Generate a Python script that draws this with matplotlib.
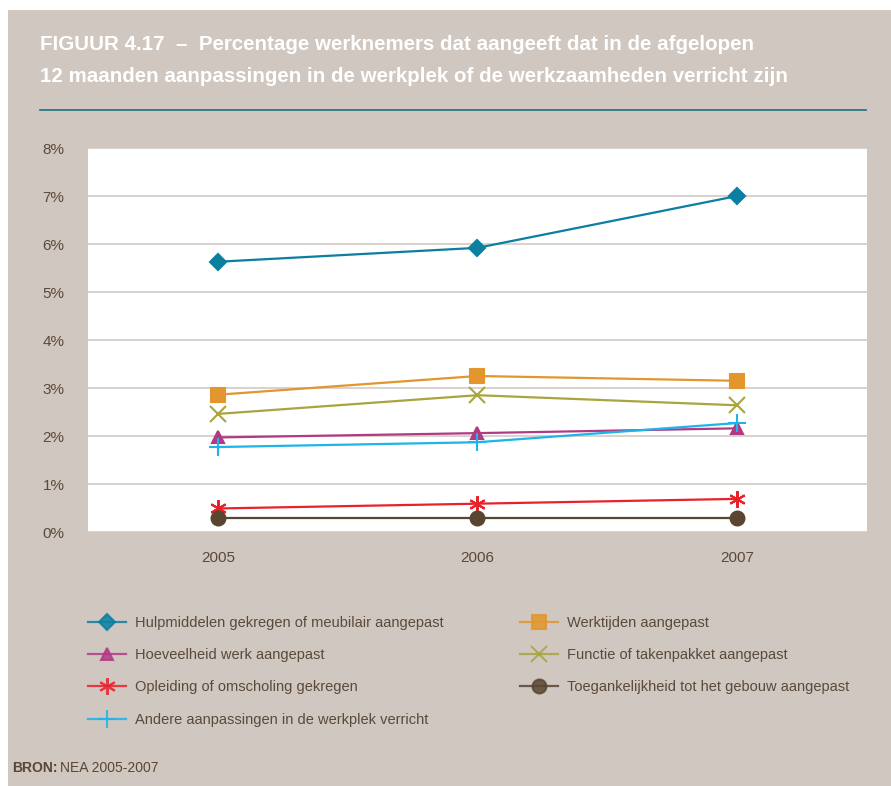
import matplotlib
matplotlib.use('Agg')
import matplotlib.pyplot as plt
from matplotlib.patches import Rectangle
from matplotlib.lines import Line2D

# ─── Data ────────────────────────────────────────────────────────────────
years = ['2005', '2006', '2007']
hulpmiddelen = [5.63, 5.92, 7.0]
werktijden = [2.86, 3.25, 3.15]
hoeveelheid = [1.97, 2.06, 2.16]
functie = [2.46, 2.85, 2.64]
opleiding = [0.49, 0.59, 0.69]
toegankelijkheid = [0.3, 0.3, 0.3]
andere = [1.77, 1.87, 2.27]

y_ticks = [0, 1, 2, 3, 4, 5, 6, 7, 8]

BG = '#d0c7c1'
GRID = '#d6cec8'
TEXT = '#5a4a3a'

W, H = 891, 786
fig = plt.figure(figsize=(W / 100, H / 100), dpi=100, facecolor='white')

# beige panel behind everything
fig.patches.append(Rectangle((8 / W, 0), 1 - 8 / W, 1 - 10 / H, transform=fig.transFigure,
                             facecolor=BG, edgecolor='none', zorder=-10))

# title + rule
fig.text(40 / W, 1 - 45 / H, 'FIGUUR 4.17  –  Percentage werknemers dat aangeeft dat in de afgelopen',
         color='white', fontsize=14.8, fontweight='bold', va='center', ha='left',
         family='Liberation Sans')
fig.text(40 / W, 1 - 77 / H, '12 maanden aanpassingen in de werkplek of de werkzaamheden verricht zijn',
         color='white', fontsize=14.8, fontweight='bold', va='center', ha='left',
         family='Liberation Sans')
fig.add_artist(Line2D([40 / W, 866 / W], [1 - 110 / H, 1 - 110 / H], transform=fig.transFigure,
                      color='#1f6e82', lw=1.2))

# ─── Plot area ───────────────────────────────────────────────────────────
ax = fig.add_axes([88 / W, 1 - 532 / H, (867 - 88) / W, (532 - 148) / H])
ax.set_facecolor('white')
for s in ax.spines.values():
    s.set_visible(False)

x = list(range(len(years)))
series = [
    (hulpmiddelen, 'Hulpmiddelen gekregen of meubilair aangepast', '#0a7fa0', 'D', 8.5, 1.6),
    (hoeveelheid, 'Hoeveelheid werk aangepast', '#b23a84', '^', 9, 1.6),
    (opleiding, 'Opleiding of omscholing gekregen', '#e8212b', (6, 2, 0), 12, 1.6),
    (andere, 'Andere aanpassingen in de werkplek verricht', '#1db4ea', '+', 13, 1.6),
    (werktijden, 'Werktijden aangepast', '#e2962d', 's', 10.5, 1.6),
    (functie, 'Functie of takenpakket aangepast', '#a8a43e', 'x', 11, 1.6),
    (toegankelijkheid, 'Toegankelijkheid tot het gebouw aangepast', '#5a4530', 'o', 10, 1.6),
]

handles = []
for vals, label, color, marker, ms, lw in series:
    line, = ax.plot(x, vals, color=color, lw=lw, marker=marker, markersize=ms,
                    markeredgewidth=1.5, label=label, zorder=3, clip_on=False)
    handles.append(line)

ax.set_xlim(-0.5, 2.5)
ax.set_ylim(0, 8)
ax.set_yticks(y_ticks)
ax.set_yticklabels([f'{t}%' for t in y_ticks])
ax.set_xticks(x)
ax.set_xticklabels(years)
ax.yaxis.grid(True, color=GRID, lw=1.3)
ax.set_axisbelow(True)
ax.tick_params(length=0, colors=TEXT, labelsize=11)
ax.tick_params(axis='y', pad=17)
ax.tick_params(axis='x', pad=14)
for lab in ax.get_xticklabels() + ax.get_yticklabels():
    lab.set_family('Liberation Sans')

# ─── Legend in two columns ───────────────────────────────────────────────
leg_kw = dict(frameon=False, labelcolor=TEXT, handlelength=2.6,
              handletextpad=0.6, labelspacing=1.25, borderaxespad=0, borderpad=0,
              loc='upper left', prop={'family': 'Liberation Sans', 'size': 10.5})
leg1 = fig.legend(handles=handles[:4], bbox_to_anchor=(88 / W, 1 - 616 / H), **leg_kw)
leg2 = fig.legend(handles=handles[4:], bbox_to_anchor=(520 / W, 1 - 616 / H), **leg_kw)
for leg in (leg1, leg2):
    for h in leg.legend_handles:
        h.set_alpha(0.85)

# source line
fig.text(12 / W, 1 - 768 / H, 'BRON:', fontweight='bold', color='#5a4632', fontsize=10,
         va='center', ha='left', family='Liberation Sans')
fig.text(60 / W, 1 - 768 / H, 'NEA 2005-2007', color='#5a4632', fontsize=10,
         va='center', ha='left', family='Liberation Sans')

fig.savefig('out.png', dpi=100, facecolor='white')
